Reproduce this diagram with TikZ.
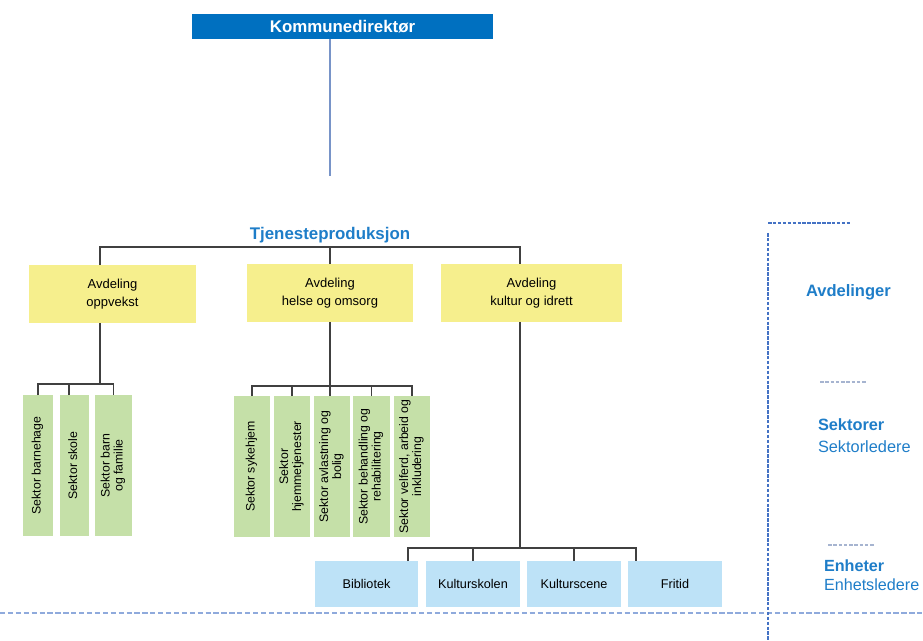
\documentclass[tikz,border=0pt]{standalone}
\usepackage{fontspec}
\setmainfont{Liberation Sans}
\usepackage{graphicx}
\definecolor{kdblue}{RGB}{0,112,192}
\definecolor{titleblue}{RGB}{30,125,200}
\definecolor{avdyellow}{RGB}{246,239,141}
\definecolor{sekgreen}{RGB}{197,224,168}
\definecolor{enhblue}{RGB}{189,226,247}
\definecolor{conngray}{RGB}{64,64,64}
\definecolor{toplinecol}{RGB}{120,148,200}
\definecolor{dashblue}{RGB}{68,114,196}
\definecolor{dashlight}{RGB}{143,170,220}
\definecolor{dashgray}{RGB}{166,180,208}

\begin{document}
\begin{tikzpicture}[x=0.02cm, y=-0.02cm,
            every node/.style = {inner sep = 0pt,
                                outer sep = 0pt},
            kdbox/.style      = {fill = kdblue,
                                text = white,
                                font = \fontsize{9.6}{11}\selectfont\bfseries,
                                minimum width  = 6.02cm,
                                minimum height = 0.5cm},
            avdeling/.style   = {fill = avdyellow,
                                align = center,
                                font = \fontsize{7.4}{9.9}\selectfont,
                                minimum height = 1.16cm},
            sektor/.style     = {fill = sekgreen,
                                font = \fontsize{7}{7.4}\selectfont,
                                minimum width  = 0.72cm,
                                minimum height = 2.82cm},
            enhet/.style      = {fill = enhblue,
                                font = \fontsize{7.2}{8.6}\selectfont,
                                minimum width  = 1.88cm,
                                minimum height = 0.92cm},
            conn/.style       = {draw = conngray,
                                line width = 0.6pt},
            level/.style      = {text = titleblue,
                                align = left,
                                anchor = west},
            dashvert/.style   = {draw = dashblue,
                                line width = 0.9pt,
                                dash pattern = on 2pt off 0.8pt}
            ]
            \newcommand{\vlabel}[1]{%
              \rotatebox{90}{\begin{tabular}{@{}c@{}}#1\end{tabular}}}

            \useasboundingbox (0,0) rectangle (923,641);

            \node [kdbox] (kd) at (342.5,26.5) {Kommunedirektør};
            \node [text = titleblue,
                   font = \fontsize{9.6}{11}\selectfont\bfseries] (tjen) at (330,235) {Tjenesteproduksjon};
            \coordinate (kdend) at (330,176);
            \draw [draw = toplinecol, line width = 0.8pt] (kd.south -| kdend) -- (kdend);

            \node [avdeling, minimum width = 3.34cm] (a1) at (112.5,294) {Avdeling\\oppvekst};
            \node [avdeling, minimum width = 3.32cm] (a2) at (330,293)   {Avdeling\\helse og omsorg};
            \node [avdeling, minimum width = 3.62cm] (a3) at (531.5,293) {Avdeling\\kultur og idrett};

            \draw [conn] ([xshift=-0.25cm]a1.north) -- ++(0,-18) -| ([xshift=-0.23cm]a3.north);
            \draw [conn] (a2.north) -- ++(0,-17);

            \node [sektor, minimum width = 0.6cm]  (s11) at (38,465.5)  {\vlabel{Sektor barnehage}};
            \node [sektor, minimum width = 0.58cm] (s12) at (74.5,465.5) {\vlabel{Sektor skole}};
            \node [sektor, minimum width = 0.74cm] (s13) at (113.5,465.5) {\vlabel{Sektor barn\\og familie}};

            \draw [conn] ([xshift=-0.25cm]a1.south) -- ++(0,61);
            \draw [conn] (s11.north) -- ++(0,-11) -| (s13.north);
            \draw [conn] ([xshift=-0.11cm]s12.north) -- ++(0,-11);

            \node [sektor] (s21) at (252,466.5)   {\vlabel{Sektor sykehjem}};
            \node [sektor] (s22) at (292,466.5)   {\vlabel{Sektor\\hjemmetjenester}};
            \node [sektor] (s23) at (332,466.5)   {\vlabel{Sektor avlastning og\\bolig}};
            \node [sektor, minimum width = 0.74cm] (s24) at (371.5,466.5) {\vlabel{Sektor behandling og\\rehabilitering}};
            \node [sektor] (s25) at (412,466.5)   {\vlabel{Sektor velferd, arbeid og\\inkludering}};

            \draw [conn] (a2.south) -- (a2.south |- s23.north);
            \draw [conn] (s21.north) -- ++(0,-10) -| (s25.north);
            \draw [conn] (s22.north) -- ++(0,-10);
            \draw [conn] (s24.north) -- ++(0,-10);

            \node [enhet, minimum width = 2.06cm] (e1) at (366.5,584) {Bibliotek};
            \node [enhet] (e2) at (473,584) {Kulturskolen};
            \node [enhet] (e3) at (574,584) {Kulturscene};
            \node [enhet] (e4) at (675,584) {Fritid};

            \draw [conn] ([xshift=-0.23cm]a3.south) -- ++(0,226);
            \draw [conn] ([xshift=0.83cm]e1.north) -- ++(0,-13) -| ([xshift=-0.78cm]e4.north);
            \draw [conn] (e2.north) -- ++(0,-13);
            \draw [conn] (e3.north) -- ++(0,-13);

            \node [level, font = \fontsize{9.4}{12.5}\selectfont\bfseries] (lvl1) at (806,292) {Avdelinger};
            \node [level, font = \fontsize{9.3}{12.5}\selectfont] (lvl2) at (818,436) {\textbf{Sektorer}\\Sektorledere};
            \node [level, font = \fontsize{9.2}{10.8}\selectfont] (lvl3) at (824,575.5) {\textbf{Enheter}\\Enhetsledere};

            \draw [draw = dashlight, line width = 0.7pt, dash pattern = on 3pt off 1.5pt] (0,613) -- (923,613);
            \draw [dashvert] (768,233) -- (768,641);
            \draw [dashvert] (768,223) -- (851,223);
            \draw [draw = dashgray, line width = 0.6pt, dash pattern = on 2pt off 1pt] (820,382) -- (867,382);
            \draw [draw = dashgray, line width = 0.6pt, dash pattern = on 2pt off 1pt] (828,545) -- (875,545);
\end{tikzpicture}
\end{document}
